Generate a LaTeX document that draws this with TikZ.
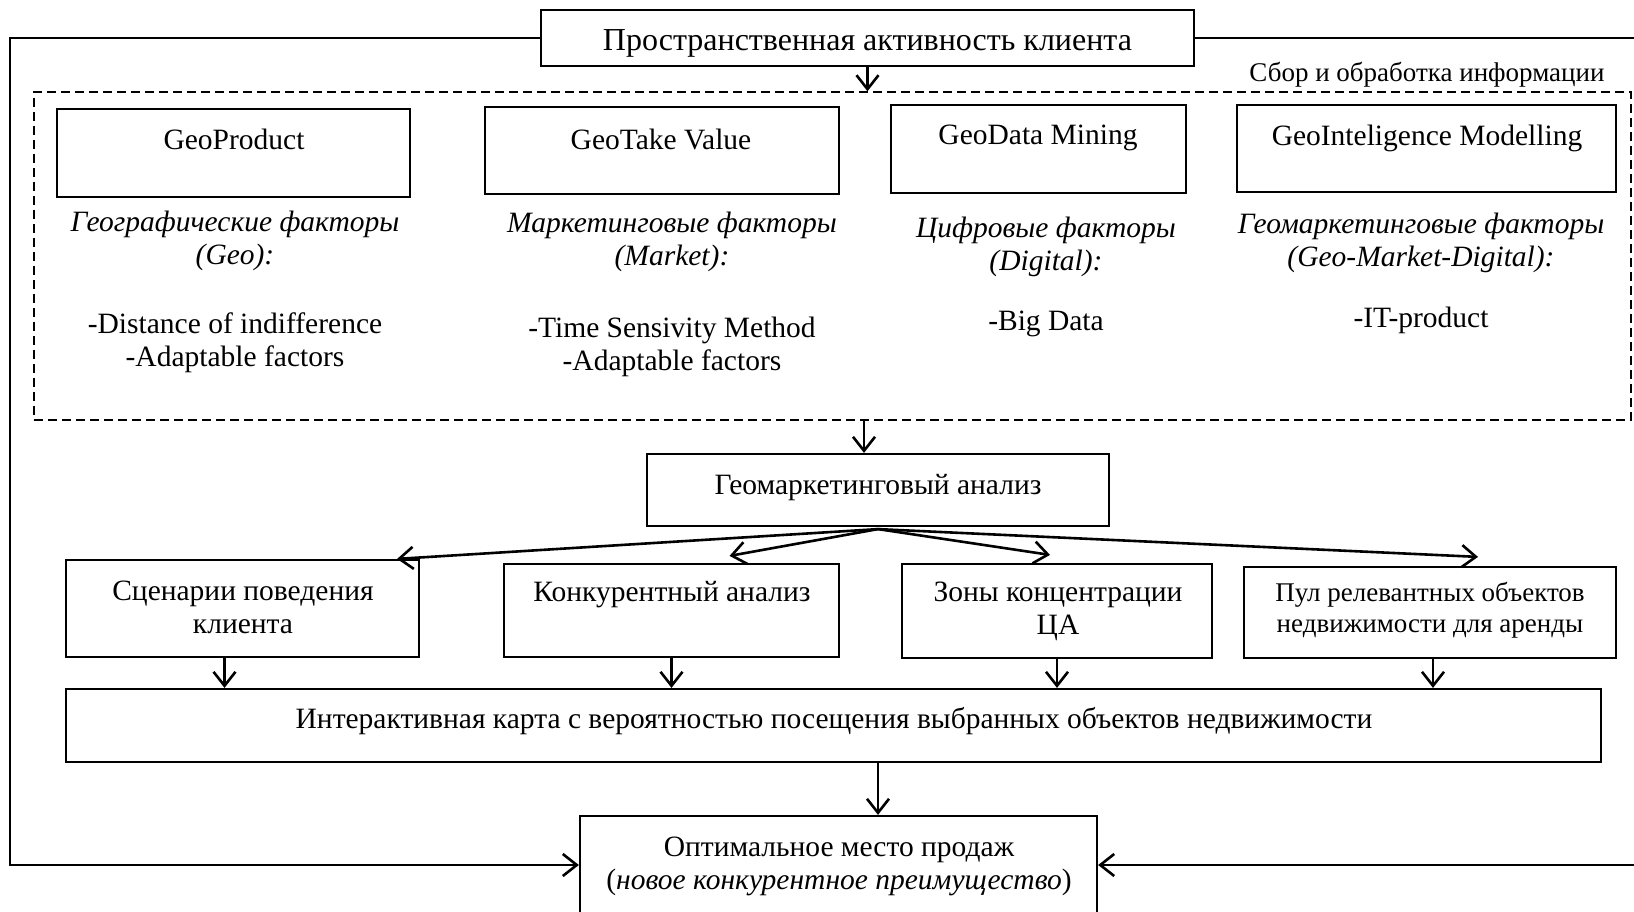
\documentclass[tikz,border=0pt]{standalone}
\usepackage{fontspec}
\setmainfont{Liberation Serif}
\usetikzlibrary{arrows.meta,calc}
\begin{document}
\begin{tikzpicture}[x=1pt,y=-1pt,
  box/.style={draw,line width=2.2pt,inner sep=0pt},
  txt/.style={font=\fontsize{29.5}{33}\selectfont,align=center,inner sep=0pt},
  bigtxt/.style={font=\fontsize{32}{34}\selectfont,align=center,inner sep=0pt},
  smalltxt/.style={font=\fontsize{27}{31}\selectfont,align=center,inner sep=0pt},
  itxt/.style={font=\fontsize{29.5}{33}\selectfont\itshape,align=center,inner sep=0pt},
  arr/.style={line width=2.6pt,-{Straight Barb[length=14pt,width=22pt,line width=2.6pt]}}]
\fill[white] (0,0) rectangle (1634,911);
\useasboundingbox (0,0) rectangle (1634,911);

% top box
\node[box,minimum width=653pt,minimum height=56pt] (top) at (867.5,38) {};
\node[bigtxt] (toptxt) at (867.5,43) {Пространственная активность клиента};

% dashed box
\node[draw,line width=1.4pt,dash pattern=on 9pt off 5pt,minimum width=1597pt,minimum height=328pt,inner sep=0pt] (db) at (832.5,256) {};
\node[smalltxt] (sbor) at (1427,75) {Сбор и обработка информации};

% four boxes
\node[box,minimum width=353pt,minimum height=88pt] (b1) at (233.5,153) {};
\node[box,minimum width=354pt,minimum height=87pt] (b2) at (662,150.5) {};
\node[box,minimum width=295pt,minimum height=88pt] (b3) at (1038.5,149) {};
\node[box,minimum width=379pt,minimum height=87pt] (b4) at (1426.5,148.5) {};
\node[txt] (t1) at (234,139) {GeoProduct};
\node[txt] (t2) at (661,139) {GeoTake Value};
\node[txt] (t3) at (1038,138) {GeoData Mining};
\node[txt] (t4) at (1427,138) {GeoInteligence Modelling};

\node[itxt] (i1) at (235,241) {Географические факторы\\(Geo):};
\node[itxt] (i2) at (672,242) {Маркетинговые факторы\\(Market):};
\node[itxt] (i3) at (1046,247) {Цифровые факторы\\(Digital):};
\node[itxt] (i4) at (1421,243) {Геомаркетинговые факторы\\(Geo-Market-Digital):};

\node[txt] (p1) at (235,343) {-Distance of indifference\\-Adaptable factors};
\node[txt] (p2) at (672,347) {-Time Sensivity Method\\-Adaptable factors};
\node[txt] (p3) at (1046,324) {-Big Data};
\node[txt] (p4) at (1421,320) {-IT-product};

% geomarketing analysis
\node[box,minimum width=462pt,minimum height=72pt] (ga) at (878,490) {};
\node[txt] (gatxt) at (878,488) {Геомаркетинговый анализ};

% four result boxes
\node[box,minimum width=353pt,minimum height=97pt] (sc) at (242.5,608.5) {};
\node[txt] (sctxt) at (243,607) {Сценарии поведения\\клиента};
\node[box,minimum width=335pt,minimum height=93pt] (ka) at (671.5,610.5) {};
\node[txt] (katxt) at (672,595) {Конкурентный анализ};
\node[box,minimum width=310pt,minimum height=94pt] (zk) at (1057,611) {};
\node[txt] (zktxt) at (1058,611) {Зоны концентрации\\ЦА};
\node[box,minimum width=372pt,minimum height=91pt] (pul) at (1430,612.5) {};
\node[smalltxt] (pultxt) at (1430,610) {Пул релевантных объектов\\недвижимости для аренды};

% interactive map
\node[box,minimum width=1535pt,minimum height=73pt] (ia) at (833.5,725.5) {};
\node[txt] (iatxt) at (834,721) {Интерактивная карта с вероятностью посещения выбранных объектов недвижимости};

% optimal place
\node[box,minimum width=517pt,minimum height=98pt] (opt) at (838.5,865) {};
\node[txt] (opttxt) at (839,866) {Оптимальное место продаж\\(\textit{новое конкурентное преимущество})};

% connectors
\coordinate (cl) at (10,0);
\coordinate (cr) at (1645,0);
\draw[arr] (top.west) -- (top.west -| cl) |- (opt.west);
\draw[arr] (top.east) -- (top.east -| cr) |- (opt.east);
\draw[arr] (top.south) -- (top.south |- db.north);
\draw[arr] ([xshift=-14pt]ga.north |- db.south) -- ([xshift=-14pt]ga.north);

\coordinate (fan) at ([yshift=-2pt]ga.south);
\draw[arr] (fan) -- ([xshift=-23pt]sc.north east);
\draw[arr] (fan) -- ([xshift=58pt,yshift=7pt]ka.north);
\draw[arr] (fan) -- ([xshift=-7pt,yshift=8pt]zk.north);
\draw[arr] (fan) -- ([xshift=48pt,yshift=9pt]pul.north);

\draw[arr] ([xshift=-18pt]sc.south) -- ([xshift=-18pt]sc.south |- ia.north);
\draw[arr] (ka.south) -- (ka.south |- ia.north);
\draw[arr] (zk.south) -- (zk.south |- ia.north);
\draw[arr] ([xshift=3pt]pul.south) -- ([xshift=3pt]pul.south |- ia.north);
\draw[arr] ([xshift=44.5pt]ia.south) -- ([xshift=39.5pt]opt.north);
\end{tikzpicture}
\end{document}
